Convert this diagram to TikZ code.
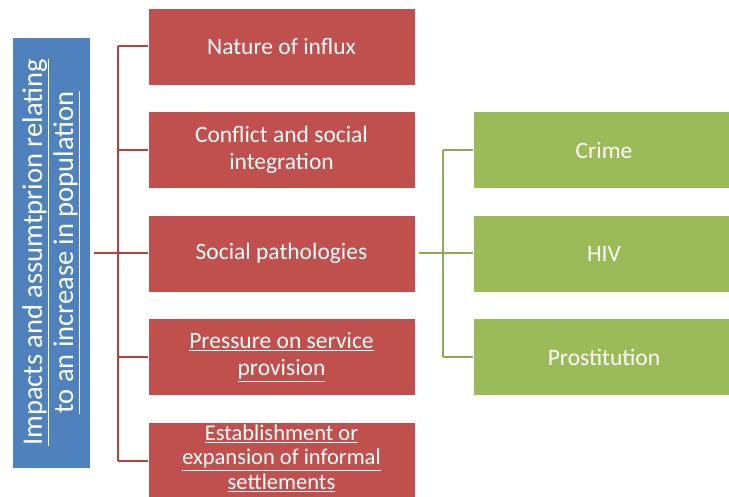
\documentclass[tikz,border=0pt]{standalone}
\usepackage{fontspec}
\setmainfont{Carlito}
\definecolor{boxred}{HTML}{C0504D}
\definecolor{boxgreen}{HTML}{9BBB59}
\definecolor{boxblue}{HTML}{4F81BD}
\definecolor{linered}{HTML}{B5423F}
\definecolor{linegreen}{HTML}{8DAA52}
\begin{document}
\begin{tikzpicture}[x=1pt,y=-1pt,
  redbox/.style={fill=boxred,draw=white,line width=0.8pt,minimum width=267pt,minimum height=77pt,
    text=white,align=center,font=\fontsize{23.5}{27}\selectfont,inner sep=0pt},
  greenbox/.style={fill=boxgreen,draw=white,line width=0.8pt,minimum width=262pt,minimum height=77pt,
    text=white,align=center,font=\fontsize{23.5}{27}\selectfont,inner sep=0pt},
  bluebox/.style={fill=boxblue,draw=white,line width=0.8pt,minimum width=431pt,minimum height=78pt,
    text=white,align=center,font=\fontsize{28.5}{31}\selectfont,inner sep=0pt,rotate=90},
  redline/.style={draw=linered,line width=2pt},
  greenline/.style={draw=linegreen,line width=2pt}]
\useasboundingbox (0,0) rectangle (729,497);
\node[bluebox] (root) at (51,252.5) {\underline{Impacts and assumtprion relating}\\\underline{to an increase in population}};
\node[redbox] (r1) at (281.5,46.5) {Nature of influx};
\node[redbox] (r2) at (281.5,150) {Conflict and social\\integration};
\node[redbox] (r3) at (281.5,253.5) {Social pathologies};
\node[redbox] (r4) at (281.5,357) {\underline{Pressure on service}\\\underline{provision}};
\node[redbox] (r5) at (281.5,460.5) {};
\node[font=\fontsize{22.5}{24.5}\selectfont,text=white,align=center,inner sep=0pt] (r5t) at ([yshift=2.5pt]r5.center) {\underline{Establishment or}\\\underline{expansion of informal}\\\underline{settlements}};
\node[greenbox] (g1) at (604,150) {Crime};
\node[greenbox] (g2) at (604,253.5) {HIV};
\node[greenbox] (g3) at (604,357) {Prostitution};
\coordinate (rs) at (118,253.5);
\coordinate (gs) at (443,253.5);
\draw[redline] ([xshift=4pt]root.south |- rs) -- (rs);
\draw[redline] (rs |- r1.west) -- (rs |- r5.west);
\foreach \n in {r1,r2,r3,r4,r5} \draw[redline] (rs |- \n.west) -- (\n.west);
\draw[greenline] ([xshift=4pt]r3.east) -- (gs);
\draw[greenline] (gs |- g1.west) -- (gs |- g3.west);
\foreach \n in {g1,g2,g3} \draw[greenline] (gs |- \n.west) -- (\n.west);
\end{tikzpicture}
\end{document}
